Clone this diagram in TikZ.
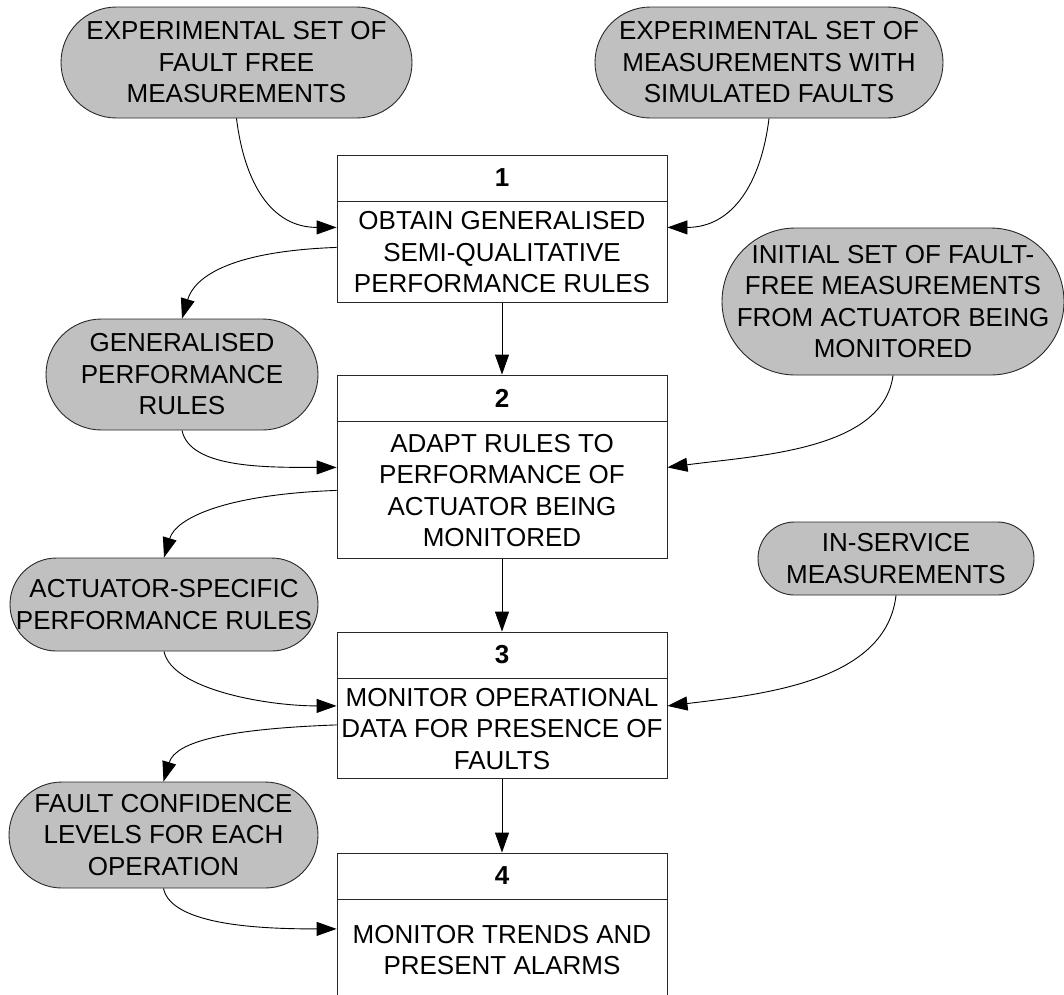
\documentclass[tikz,border=0pt]{standalone}
\usepackage{fontspec}
\setmainfont{Liberation Sans}
\usetikzlibrary{arrows.meta}
\definecolor{termgray}{RGB}{192,192,192}
\definecolor{edgegray}{RGB}{40,40,40}
\begin{document}
\begin{tikzpicture}[x=1pt,y=-1pt,
  font=\fontsize{26}{31.5}\selectfont,
  stadium/.style n args={3}{draw=edgegray, fill=termgray, line width=0.9pt,
    align=center, inner sep=0pt, minimum width=#1, minimum height=#2,
    rounded corners=#3},
  head/.style={draw=edgegray, fill=white, line width=0.9pt, minimum width=330pt,
    minimum height=46pt, inner sep=0pt, font=\fontsize{26}{31.5}\selectfont\bfseries},
  body/.style={draw=edgegray, fill=white, line width=0.9pt, minimum width=330pt,
    inner sep=0pt, align=center, anchor=north},
  flow/.style={line width=0.9pt, -{Triangle[length=20pt,width=14pt]}},
]
\clip (0,0) rectangle (1064,994);
\fill[white] (0,0) rectangle (1064,994);

% data stores
\node[stadium={351pt}{111pt}{55.5pt}] (e1) at (236.5,62.5)
  {EXPERIMENTAL SET OF\\FAULT FREE\\MEASUREMENTS};
\node[stadium={348pt}{111pt}{55.5pt}] (e2) at (769,62.5)
  {EXPERIMENTAL SET OF\\MEASUREMENTS WITH\\SIMULATED FAULTS};
\node[stadium={272pt}{111pt}{55.5pt}] (gen) at (182,374.5)
  {GENERALISED\\PERFORMANCE\\RULES};
\node[stadium={342pt}{147pt}{73.5pt}] (init) at (893,301.5)
  {INITIAL SET OF FAULT-\\FREE MEASUREMENTS\\FROM ACTUATOR BEING\\MONITORED};
\node[stadium={308pt}{93pt}{46.5pt}] (act) at (164,604.5)
  {ACTUATOR-SPECIFIC\\PERFORMANCE RULES};
\node[stadium={276pt}{73pt}{36.5pt}] (ins) at (896,558.5)
  {IN-SERVICE\\MEASUREMENTS};
\node[stadium={309pt}{106pt}{53pt}] (conf) at (163.5,835)
  {FAULT CONFIDENCE\\LEVELS FOR EACH\\OPERATION};

% process steps
\node[head] (h1) at (502,178) {1};
\node[body, minimum height=101pt] (b1) at (h1.south)
  {OBTAIN GENERALISED\\SEMI-QUALITATIVE\\PERFORMANCE RULES};
\node[head] (h2) at (502,398) {2};
\node[body, minimum height=137pt] (b2) at (h2.south)
  {ADAPT RULES TO\\PERFORMANCE OF\\ACTUATOR BEING\\MONITORED};
\node[head] (h3) at (502,655) {3};
\node[body, minimum height=100pt] (b3) at (h3.south)
  {MONITOR OPERATIONAL\\DATA FOR PRESENCE OF\\FAULTS};
\node[head] (h4) at (502,876) {4};
\node[body, minimum height=100pt] (b4) at (h4.south)
  {MONITOR TRENDS AND\\PRESENT ALARMS};

% main sequence
\draw[flow] (b1.south) -- (h2.north);
\draw[flow] (b2.south) -- (h3.north);
\draw[flow] (b3.south) -- (h4.north);

% inputs and outputs of step 1
\draw[flow] (e1.south) .. controls +(8,65) and +(-65,0) .. ([yshift=25pt]b1.west);
\draw[flow] (e2.south) .. controls +(-8,65) and +(65,0) .. ([yshift=25pt]b1.east);
\draw[flow] ([yshift=5pt]b1.west) .. controls +(-110,4) and +(12,-40) .. (gen.north);

% inputs and outputs of step 2
\draw[flow] (gen.south) .. controls +(8,38) and +(-70,0) .. ([yshift=23pt]b2.west);
\draw[flow] (init.south) .. controls +(-10,75) and +(90,-12) .. ([yshift=23pt]b2.east);
\draw[flow] (b2.west) .. controls +(-110,4) and +(12,-40) .. (act.north);

% inputs and outputs of step 3
\draw[flow] (act.south) .. controls +(8,38) and +(-70,0) .. ([yshift=23pt]b3.west);
\draw[flow] (ins.south) .. controls +(-10,85) and +(100,-12) .. ([yshift=23pt]b3.east);
\draw[flow] ([yshift=4pt]b3.west) .. controls +(-110,4) and +(12,-40) .. (conf.north);

% input of step 4
\draw[flow] (conf.south) .. controls +(8,38) and +(-70,0) .. ([yshift=21pt]b4.west);
\end{tikzpicture}
\end{document}
